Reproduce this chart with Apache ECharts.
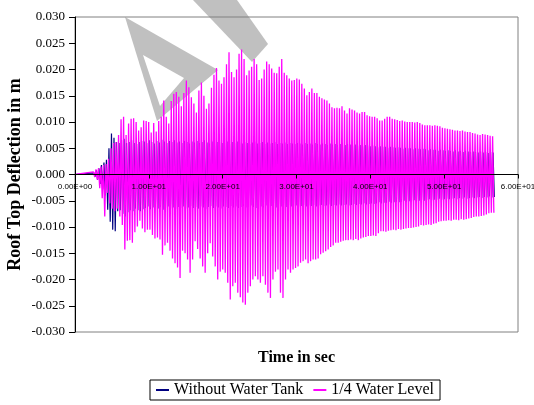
<!DOCTYPE html>
<html>
<head>
<meta charset="utf-8">
<script src="https://cdn.jsdelivr.net/npm/echarts@6/dist/echarts.min.js"></script>
<style>
html,body{margin:0;padding:0;background:#fff;}
#chart{width:534px;height:405px;}
</style>
</head>
<body>
<div id="chart"></div>
<script>
// ---- Data ----
// Displacement extremes per oscillation cycle, in millimetres (converted to m below)
const oscStartS = 2.5;     // time at which oscillation begins (s)
const cycleS = 0.34;       // oscillation period (s)

const pinkUpperMm = [
  0.5, 1.0, 1.2, 1.5, 1.8, 2.0, 3.0, 5.0, 6.0, 6.2,
  7.5, 10.5, 11.0, 7.5, 9.7, 10.6, 10.7, 10.0, 8.4, 9.0,
  10.3, 10.2, 10.0, 8.0, 9.8, 8.2, 10.2, 11.0, 14.1, 11.0,
  9.7, 14.0, 15.4, 15.7, 14.8, 13.0, 15.5, 17.9, 16.6, 14.7,
  13.5, 11.8, 16.0, 17.5, 15.0, 12.5, 13.5, 16.5, 19.0, 20.3,
  17.9, 17.3, 18.5, 21.0, 23.3, 19.5, 18.5, 20.0, 23.0, 23.8,
  22.0, 18.9, 19.8, 20.5, 22.0, 21.0, 18.0, 18.3, 20.0, 21.5,
  21.0, 20.2, 19.4, 19.3, 20.5, 22.0, 19.4, 18.9, 18.3, 17.9,
  18.0, 18.3, 18.1, 17.3, 16.4, 15.1, 15.7, 16.4, 15.5, 15.5,
  14.8, 14.5, 14.3, 14.1, 13.5, 12.8, 12.6, 12.7, 12.6, 13.0,
  12.2, 11.6, 12.6, 12.4, 12.2, 11.8, 11.6, 11.9, 11.9, 11.3,
  11.1, 11.0, 11.0, 10.7, 10.3, 10.3, 10.6, 11.0, 11.0, 10.6,
  10.5, 10.4, 10.2, 10.3, 10.1, 10.0, 10.0, 10.0, 9.9, 10.0,
  9.8, 9.5, 9.4, 9.4, 9.4, 9.3, 9.4, 9.3, 9.2, 8.9,
  8.8, 8.7, 8.6, 8.5, 8.4, 8.4, 8.3, 8.4, 8.2, 8.1,
  8.1, 7.9, 7.8, 7.6, 7.5, 7.7, 7.6, 7.5, 7.4, 7.3
];
const pinkLowerMm = [
  -0.5, -1.0, -2.6, -4.5, -8.0, -3.5, -5.5, -6.5, -7.0, -6.5,
  -8.0, -9.6, -14.3, -12.6, -12.5, -13.0, -11.0, -9.9, -8.8, -10.3,
  -11.0, -10.5, -10.5, -11.5, -12.2, -12.0, -12.4, -15.3, -13.5, -13.0,
  -14.5, -16.0, -16.9, -17.7, -19.7, -14.5, -15.0, -16.2, -18.7, -16.2,
  -12.7, -14.2, -16.0, -17.5, -18.7, -15.0, -13.1, -15.6, -17.5, -20.0,
  -18.5, -18.1, -18.7, -20.6, -23.8, -21.3, -20.6, -22.5, -23.4, -24.4,
  -24.8, -22.5, -21.3, -20.0, -19.4, -20.0, -20.6, -19.4, -21.0, -22.5,
  -23.5, -20.0, -18.5, -18.1, -22.5, -23.5, -20.0, -18.1, -18.7, -18.1,
  -17.8, -17.5, -16.8, -16.5, -16.2, -16.9, -16.5, -16.2, -16.2, -16.0,
  -15.2, -14.9, -14.6, -14.3, -13.8, -13.5, -13.0, -13.0, -12.8, -12.6,
  -12.5, -12.5, -12.4, -12.5, -12.3, -12.5, -12.2, -12.0, -11.9, -11.7,
  -11.7, -11.6, -11.7, -11.2, -10.8, -10.8, -10.9, -10.7, -10.6, -10.5,
  -10.6, -10.4, -10.5, -10.4, -10.3, -10.2, -10.2, -10.1, -10.0, -9.9,
  -9.6, -9.7, -9.6, -9.5, -9.6, -9.4, -9.3, -9.0, -8.9, -8.8,
  -8.8, -8.7, -8.8, -8.6, -8.6, -8.7, -8.5, -8.6, -8.5, -8.4,
  -8.3, -8.1, -8.0, -8.0, -7.9, -7.8, -7.6, -7.4, -7.3, -7.3
];
const blueUpperMm = [
  0.3, 0.8, 1.2, 1.8, 2.3, 2.8, 5.0, 7.8, 7.0, 6.2,
  6.0, 6.5, 6.8, 6.0, 6.2, 6.5, 6.0, 5.8, 6.2, 6.4,
  6.3, 6.0, 6.5, 6.2, 5.9, 6.4, 6.1, 6.6, 6.3, 6.0,
  6.4, 6.2, 6.5, 6.1, 6.3, 6.0, 6.4, 6.2, 5.9, 6.3,
  6.1, 6.4, 6.0, 6.2, 6.5, 6.1, 5.9, 6.3, 6.0, 6.2,
  6.4, 6.0, 6.1, 6.3, 5.9, 6.2, 6.0, 6.3, 6.1, 5.9,
  6.2, 6.0, 5.8, 6.1, 6.3, 5.9, 6.0, 6.2, 5.8, 6.1,
  5.9, 6.0, 6.2, 5.8, 6.0, 5.9, 6.1, 5.8, 6.0, 5.9,
  5.8, 6.0, 5.9, 5.7, 6.0, 5.8, 5.9, 5.7, 6.0, 5.8,
  5.7, 5.9, 5.8, 5.6, 5.9, 5.7, 5.8, 5.6, 5.8, 5.7,
  5.6, 5.8, 5.7, 5.5, 5.7, 5.5, 5.6, 5.4, 5.6, 5.5,
  5.4, 5.5, 5.4, 5.2, 5.4, 5.3, 5.3, 5.1, 5.3, 5.2,
  5.1, 5.2, 5.1, 4.9, 5.1, 5.0, 5.0, 4.8, 5.0, 4.9,
  4.8, 4.9, 4.8, 4.6, 4.8, 4.7, 4.7, 4.5, 4.7, 4.6,
  4.5, 4.6, 4.5, 4.4, 4.6, 4.4, 4.5, 4.3, 4.5, 4.4,
  4.3, 4.4, 4.3, 4.2, 4.4, 4.2, 4.3, 4.1, 4.3, 4.2
];
const blueLowerMm = [
  -0.4, -1.0, -1.8, -2.8, -4.0, -6.7, -9.0, -10.5, -10.8, -7.0,
  -6.8, -7.5, -8.0, -7.2, -6.8, -7.0, -6.5, -6.8, -7.0, -6.6,
  -6.4, -6.1, -6.6, -6.3, -6.0, -6.5, -6.2, -6.7, -6.4, -6.1,
  -6.5, -6.3, -6.6, -6.2, -6.4, -6.1, -6.5, -6.3, -6.0, -6.4,
  -6.2, -6.5, -6.1, -6.3, -6.6, -6.2, -6.0, -6.4, -6.1, -6.3,
  -6.5, -6.1, -6.2, -6.4, -6.0, -6.3, -6.1, -6.4, -6.2, -6.0,
  -6.3, -6.1, -5.9, -6.2, -6.4, -6.0, -6.1, -6.3, -5.9, -6.2,
  -6.0, -6.1, -6.3, -5.9, -6.1, -6.0, -6.2, -5.9, -6.1, -6.0,
  -5.9, -6.1, -6.0, -5.8, -6.1, -5.9, -6.0, -5.8, -6.1, -5.9,
  -5.8, -6.0, -5.9, -5.7, -6.0, -5.8, -5.9, -5.7, -5.9, -5.8,
  -5.7, -5.9, -5.8, -5.6, -5.8, -5.6, -5.7, -5.5, -5.7, -5.6,
  -5.5, -5.6, -5.5, -5.3, -5.5, -5.4, -5.4, -5.2, -5.4, -5.3,
  -5.2, -5.3, -5.2, -5.0, -5.2, -5.1, -5.1, -4.9, -5.1, -5.0,
  -4.9, -5.0, -4.9, -4.7, -4.9, -4.8, -4.8, -4.6, -4.8, -4.7,
  -4.6, -4.7, -4.6, -4.5, -4.7, -4.5, -4.6, -4.4, -4.6, -4.5,
  -4.4, -4.5, -4.4, -4.3, -4.5, -4.3, -4.4, -4.2, -4.4, -4.3
];

const yTicks = [-0.030, -0.025, -0.020, -0.015, -0.010, -0.005, 0, 0.005, 0.010, 0.015, 0.020, 0.025, 0.030];
const xTicks = [0, 10, 20, 30, 40, 50, 60];
const seriesNames = ['Without Water Tank', '1/4 Water Level'];
const seriesColors = ['#000080', '#FF00FF'];

// ---- Build series data (time in s, displacement in m) ----
function buildTrace(upper, lower, phaseS) {
  const pts = [[0, 0]];
  for (let i = 0; i < upper.length; i++) {
    const t = oscStartS + phaseS + i * cycleS;
    pts.push([t, upper[i] / 1000]);
    pts.push([t + cycleS / 2, lower[i] / 1000]);
  }
  return pts;
}
const blueData = buildTrace(blueUpperMm, blueLowerMm, 0.06);
const pinkData = buildTrace(pinkUpperMm, pinkLowerMm, 0);

function sciLabel(v) {
  const s = Number(v).toExponential(2);
  const parts = s.split('e');
  const n = parseInt(parts[1], 10);
  return parts[0].toUpperCase() + 'E' + (n < 0 ? '-' : '+') + String(Math.abs(n)).padStart(2, '0');
}

const gridTop = 17, gridBottom = 73, chartH = 405;
const plotH = chartH - gridTop - gridBottom;

const chart = echarts.init(document.getElementById('chart'), null, {renderer: 'canvas'});
const gray = '#c0c0c0';
chart.setOption({
  animation: false,
  backgroundColor: '#fff',
  grid: {left: 75, right: 16, top: gridTop, bottom: gridBottom, show: true, borderColor: '#808080', borderWidth: 1,
         backgroundColor: 'transparent', containLabel: false, outerBoundsMode: 'none'},
  graphic: [
    // grey watermark behind the plot (triangle outline + diagonal band)
    {type: 'polygon', z: -2, silent: true, shape: {points: [[125, 17], [218, 70], [157, 121]]}, style: {fill: gray}},
    {type: 'polygon', z: -1, silent: true, shape: {points: [[143, 55], [184, 78], [160, 106]]}, style: {fill: '#fff'}},
    {type: 'polygon', z: -2, silent: true, shape: {points: [[193, 0], [237, 0], [268, 44], [252, 62]]}, style: {fill: gray}},
    {type: 'text', left: 258, top: 350, silent: true, style: {text: 'Time in sec', font: 'bold 16px "Liberation Serif"', fill: '#000'}}
  ],
  legend: {
    left: 150, top: 380,
    data: seriesNames.map(n => ({name: n, icon: 'rect'})),
    itemWidth: 13, itemHeight: 2, itemGap: 10,
    padding: [2, 6, 2, 6],
    borderColor: '#000', borderWidth: 1,
    textStyle: {fontFamily: 'Liberation Serif', fontSize: 16, color: '#000'}
  },
  xAxis: {
    type: 'value', min: 0, max: 60, interval: 10, z: 10,
    offset: -plotH / 2,
    axisLine: {onZero: false, lineStyle: {color: '#000', width: 1}},
    axisTick: {show: true, length: 4, lineStyle: {color: '#000'}},
    axisLabel: {formatter: sciLabel, fontFamily: 'Liberation Sans', fontSize: 8, color: '#000', margin: 8,
                showMaxLabel: true, showMinLabel: true, hideOverlap: false},
    splitLine: {show: false}
  },
  yAxis: {
    type: 'value', min: -0.03, max: 0.03, interval: 0.005, z: 10,
    name: 'Roof Top Deflection in m', nameLocation: 'middle', nameGap: 51, nameMoveOverlap: false,
    nameTextStyle: {fontFamily: 'Liberation Serif', fontWeight: 'bold', fontSize: 18, color: '#000'},
    axisLine: {show: true, onZero: false, lineStyle: {color: '#000', width: 1}},
    axisTick: {show: true, length: 6, lineStyle: {color: '#000'}},
    axisLabel: {formatter: v => Number(v).toFixed(3), fontFamily: 'Liberation Serif', fontSize: 13, color: '#000', margin: 10},
    splitLine: {show: false}
  },
  series: [
    {name: seriesNames[0], type: 'line', data: blueData, showSymbol: false, symbol: 'none', silent: true,
     lineStyle: {color: seriesColors[0], width: 1.2}, itemStyle: {color: seriesColors[0]}, z: 2},
    {name: seriesNames[1], type: 'line', data: pinkData, showSymbol: false, symbol: 'none', silent: true,
     lineStyle: {color: seriesColors[1], width: 1.3}, itemStyle: {color: seriesColors[1]}, z: 3}
  ]
});
</script>
</body>
</html>
